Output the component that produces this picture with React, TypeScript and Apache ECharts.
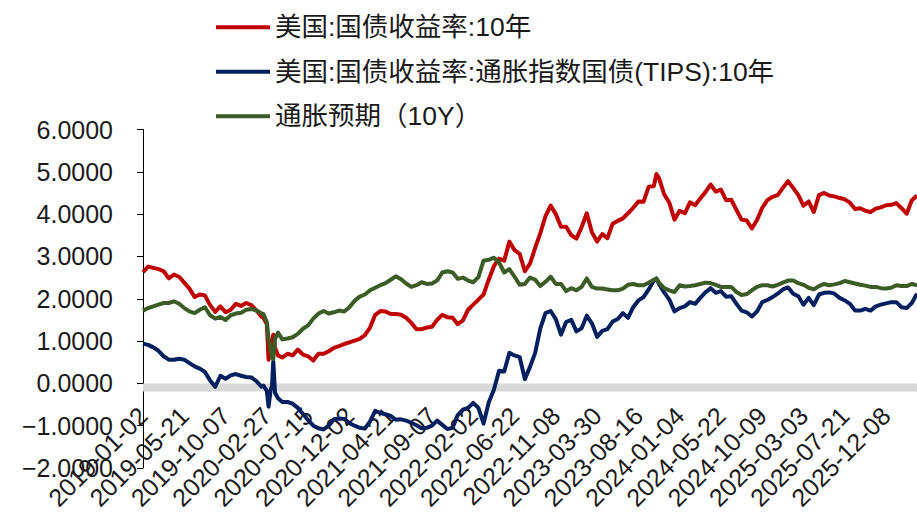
import React, { useEffect, useRef } from "react";
import * as echarts from "echarts";

const FONT = '"Liberation Sans", "Noto Sans CJK SC", sans-serif';

const seriesNames = [
  "美国:国债收益率:10年",
  "美国:国债收益率:通胀指数国债(TIPS):10年",
  "通胀预期（10Y）",
];

// x-axis tick labels, one every 96 trading days
const tickLabels = [
  "2019-01-02", "2019-05-21", "2019-10-07", "2020-02-27", "2020-07-15",
  "2020-12-02", "2021-04-21", "2021-09-07", "2022-02-02", "2022-06-22",
  "2022-11-08", "2023-03-30", "2023-08-16", "2024-01-04", "2024-05-22",
  "2024-10-09", "2025-03-03", "2025-07-21", "2025-12-08",
];

// trading-day index (from 2019-01-02) of each sampled observation
const dayIndex = [
  0, 12, 24, 36, 48, 60, 72, 84, 96, 108, 120, 132, 144, 156, 168, 180, 192, 204, 216, 228, 240, 252, 264, 276,
  280, 288, 292, 297, 300, 303, 307, 314,
  324, 336, 348, 360, 372, 384, 396, 408, 420, 432, 444, 456, 468, 480, 492, 504, 516, 528, 540, 552, 564, 576,
  588, 600, 612, 624, 636, 648, 660, 672, 684, 696, 708, 720, 732, 744, 756, 768, 780, 792, 804, 816, 828, 840,
  852, 864, 876, 888, 900, 912, 924, 936, 948, 960, 972, 984, 996, 1008, 1020, 1032, 1044, 1056, 1068, 1080,
  1092, 1104, 1116, 1128, 1140, 1152, 1164, 1176, 1188,
  1194,
  1200, 1212, 1224, 1236, 1248, 1260, 1272, 1284, 1296, 1308, 1320, 1332, 1344, 1356, 1368, 1380, 1392, 1404,
  1416, 1428, 1440, 1452, 1464, 1476, 1488, 1500, 1512, 1524, 1536, 1548, 1560, 1572, 1584, 1596, 1608, 1620,
  1632, 1644, 1656, 1668, 1680, 1692, 1704, 1716, 1728, 1740, 1752, 1764, 1776, 1788, 1800,
];

const nominal10y = [
  2.63, 2.76, 2.73, 2.70, 2.65, 2.48, 2.57, 2.52, 2.38, 2.24, 2.04, 2.10, 2.08, 1.85, 1.69, 1.82, 1.68, 1.74, 1.88, 1.83, 1.90, 1.85, 1.72, 1.57,
  1.55, 1.40, 0.56, 0.80, 1.00, 1.15, 0.85, 0.66,
  0.61, 0.70, 0.66, 0.80, 0.68, 0.64, 0.54, 0.70, 0.70, 0.76, 0.84, 0.88, 0.93, 0.97, 1.01, 1.05, 1.14, 1.32,
  1.62, 1.71, 1.70, 1.64, 1.64, 1.62, 1.55, 1.43, 1.28, 1.28, 1.32, 1.34, 1.50, 1.62, 1.56, 1.55, 1.40, 1.49,
  1.74, 1.86, 1.98, 2.10, 2.45, 2.77, 2.95, 2.90, 3.35, 3.15, 3.06, 2.65, 2.83, 3.20, 3.55, 3.95, 4.20, 4.00,
  3.70, 3.70, 3.50, 3.42, 3.69, 4.02, 3.57, 3.35, 3.53, 3.43, 3.77, 3.84, 3.90, 4.02, 4.15, 4.30, 4.29, 4.65, 4.66,
  4.95,
  4.85, 4.47, 4.27, 3.87, 4.08, 4.02, 4.28, 4.21, 4.37, 4.52, 4.70, 4.53, 4.58, 4.33, 4.34, 4.10, 3.87, 3.85,
  3.66, 3.86, 4.15, 4.33, 4.41, 4.45, 4.62, 4.78, 4.62, 4.45, 4.20, 4.30, 4.05, 4.45, 4.50, 4.44, 4.42, 4.38,
  4.35, 4.27, 4.12, 4.14, 4.08, 4.05, 4.13, 4.16, 4.21, 4.22, 4.26, 4.14, 4.01, 4.33, 4.44,
];

const tips10y = [
  0.94, 0.91, 0.85, 0.77, 0.64, 0.56, 0.56, 0.58, 0.56, 0.48, 0.40, 0.35, 0.27, 0.07, -0.08, 0.18, 0.11, 0.19, 0.22, 0.18, 0.15, 0.14, 0.05, -0.08,
  -0.05, -0.18, -0.55, -0.15, -0.05, 0.52, -0.22, -0.35,
  -0.44, -0.44, -0.48, -0.58, -0.72, -0.87, -1.00, -1.06, -1.09, -1.00, -0.85, -0.83, -0.84, -0.94, -1.00, -1.05, -1.07, -0.90,
  -0.65, -0.70, -0.73, -0.77, -0.86, -0.85, -0.88, -0.93, -0.99, -1.06, -1.05, -1.00, -0.88, -0.98, -1.08, -1.05, -0.75, -0.62,
  -0.58, -0.46, -0.58, -0.95, -0.45, -0.15, 0.30, 0.28, 0.72, 0.66, 0.62, 0.10, 0.39, 0.72, 1.30, 1.66, 1.71, 1.52,
  1.15, 1.45, 1.50, 1.23, 1.30, 1.60, 1.42, 1.10, 1.24, 1.28, 1.46, 1.52, 1.66, 1.55, 1.80, 1.96, 2.04, 2.22, 2.43,
  2.48,
  2.35, 2.15, 1.98, 1.70, 1.78, 1.82, 1.92, 1.88, 2.02, 2.15, 2.25, 2.14, 2.18, 2.05, 2.06, 1.88, 1.72, 1.68,
  1.58, 1.70, 1.92, 1.97, 2.04, 2.12, 2.22, 2.27, 2.12, 2.06, 1.86, 2.02, 1.85, 2.10, 2.14, 2.15, 2.12, 2.02,
  1.96, 1.88, 1.72, 1.72, 1.76, 1.72, 1.82, 1.86, 1.89, 1.92, 1.92, 1.80, 1.78, 1.90, 2.12,
];

const breakeven10y = [
  1.72, 1.78, 1.82, 1.86, 1.90, 1.90, 1.94, 1.88, 1.78, 1.70, 1.66, 1.74, 1.80, 1.61, 1.53, 1.57, 1.50, 1.61, 1.65, 1.67, 1.74, 1.76, 1.72, 1.65,
  1.64, 1.45, 1.05, 0.80, 0.60, 0.58, 1.05, 1.20,
  1.04, 1.06, 1.09, 1.17, 1.29, 1.37, 1.53, 1.65, 1.71, 1.65, 1.68, 1.72, 1.70, 1.80, 1.95, 2.05, 2.10, 2.20,
  2.26, 2.32, 2.37, 2.45, 2.53, 2.46, 2.36, 2.28, 2.32, 2.39, 2.35, 2.36, 2.43, 2.62, 2.65, 2.62, 2.47, 2.50,
  2.43, 2.39, 2.51, 2.90, 2.92, 2.97, 2.86, 2.62, 2.70, 2.52, 2.33, 2.35, 2.50, 2.45, 2.30, 2.40, 2.52, 2.35,
  2.35, 2.18, 2.25, 2.20, 2.28, 2.48, 2.28, 2.24, 2.24, 2.22, 2.20, 2.20, 2.24, 2.33, 2.35, 2.32, 2.32, 2.38, 2.45,
  2.47,
  2.38, 2.25, 2.20, 2.16, 2.32, 2.29, 2.30, 2.32, 2.35, 2.38, 2.37, 2.33, 2.28, 2.28, 2.28, 2.16, 2.09, 2.11,
  2.20, 2.28, 2.32, 2.32, 2.29, 2.33, 2.38, 2.43, 2.43, 2.37, 2.33, 2.26, 2.22, 2.30, 2.35, 2.32, 2.34, 2.37,
  2.42, 2.39, 2.36, 2.33, 2.31, 2.28, 2.28, 2.25, 2.24, 2.26, 2.32, 2.30, 2.30, 2.35, 2.32,
];

const colors = ["#C00000", "#002060", "#3B5B27"];
const TEXT = "#1a1a1a";

export default function App() {
  const ref = useRef<HTMLDivElement>(null);
  useEffect(() => {
    if (!ref.current) return;
    const chart = echarts.init(ref.current, undefined, { renderer: "svg" });
    const values = [nominal10y, tips10y, breakeven10y];
    const lineSeries = values.map((vals, s) => ({
      name: seriesNames[s],
      type: "line",
      data: dayIndex.map((d, i) => [d, vals[i]]),
      symbol: "none",
      showSymbol: false,
      lineStyle: { width: 4, color: colors[s], join: "round" },
      itemStyle: { color: colors[s] },
      z: 3 + s,
    }));
    chart.setOption({
      animation: false,
      textStyle: { fontFamily: FONT },
      legend: {
        data: seriesNames,
        orient: "vertical",
        left: 211,
        top: 9,
        padding: 5,
        itemWidth: 54,
        itemHeight: 4,
        itemGap: 18,
        icon: "rect",
        textStyle: { fontSize: 26.5, color: TEXT, fontFamily: FONT },
      },
      grid: { left: 143, right: 0, top: 129.5, bottom: 53, containLabel: false, outerBoundsMode: "none" },
      xAxis: {
        type: "value",
        position: "bottom",
        offset: -84.6,
        min: 0,
        max: 1800,
        interval: 96,
        axisLine: { show: false, onZero: false },
        axisTick: { show: false },
        splitLine: { show: false },
        axisLabel: {
          rotate: 45,
          fontSize: 25,
          color: TEXT,
          margin: 28,
          fontFamily: FONT,
          showMaxLabel: false,
          hideOverlap: false,
          formatter: (v: number) => {
            const j = Math.round(v / 96);
            return Math.abs(v - j * 96) < 0.01 && j < tickLabels.length ? tickLabels[j] : "";
          },
        },
      },
      yAxis: {
        type: "value",
        min: -2,
        max: 6,
        interval: 1,
        axisLine: { show: true, onZero: false, lineStyle: { color: "#000", width: 1 } },
        axisTick: { show: true, length: 6, lineStyle: { color: "#000" } },
        splitLine: { show: false },
        axisLabel: {
          fontSize: 25,
          color: TEXT,
          margin: 30,
          fontFamily: FONT,
          formatter: (v: number) => (v < 0 ? "\u2212" : "") + Math.abs(v).toFixed(4),
        },
      },
      series: [
        {
          name: "zeroBand",
          type: "line",
          data: [],
          silent: true,
          z: 1,
          markArea: {
            silent: true,
            itemStyle: { color: "#d9d9d9" },
            data: [[{ yAxis: 0 }, { yAxis: -0.19 }]],
          },
        },
        ...lineSeries,
      ],
    });
    return () => chart.dispose();
  }, []);
  return (
    <div
      ref={ref}
      style={{ position: "absolute", left: 0, top: 0, width: 917, height: 521 }}
    />
  );
}
